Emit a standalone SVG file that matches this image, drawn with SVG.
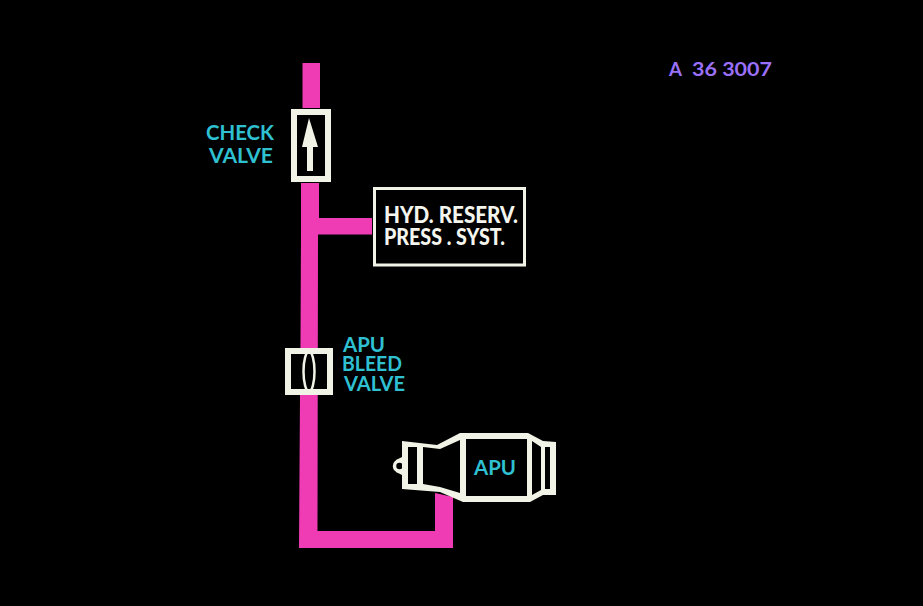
<svg xmlns="http://www.w3.org/2000/svg" width="923" height="606" viewBox="0 0 923 606">
<style>
.pipe{fill:#f03cb4}
.w{fill:#f1f3e6}
.k{fill:#000}
.o{fill:#000;stroke:#f1f3e6}
text{font-family:Lato,"Open Sans",sans-serif;font-weight:700}
.c{fill:#2fc0d2;font-size:20.500px}
.t{fill:#f4f5ee;font-size:22px;font-weight:900}
.v{fill:#9a70fa;font-size:18px}
</style>
<rect width="923" height="606" fill="#000"/>
<g id="connectors">
<polygon class="pipe" points="302.500,63 320,63 320,108 302.500,108"/>
<polygon class="pipe" points="301,183 319,183 319,218 372,218 372,234.500 318,234.500 317.500,531 435,531 435,493 453,497 453,548 299,548 300,395 300.500,340 301,234"/>
</g>
<g id="check-valve">
<rect class="o" x="294" y="112" width="34" height="67" stroke-width="6"/>
<polygon class="w" points="309,118 318,147 313,147 313,171 307,171 307,147 302,147"/>
<text class="c" x="206" y="140" textLength="68" lengthAdjust="spacingAndGlyphs">CHECK</text>
<text class="c" x="209" y="163" textLength="64" lengthAdjust="spacingAndGlyphs">VALVE</text>
</g>
<g id="hyd-reserv">
<rect x="374.500" y="188.500" width="150" height="76.500" class="k" stroke="#f1f3e6" stroke-width="3"/>
<text class="t" x="384" y="223" textLength="134" lengthAdjust="spacingAndGlyphs">HYD. RESERV.</text>
<text class="t" x="384" y="245" textLength="121" lengthAdjust="spacingAndGlyphs">PRESS . SYST.</text>
</g>
<g id="apu-bleed-valve">
<rect class="o" x="288" y="351" width="42" height="41" stroke-width="6"/>
<ellipse cx="309" cy="371.500" rx="5.500" ry="20" fill="none" stroke="#f1f3e6" stroke-width="2.500"/>
<text class="c" x="343" y="352" textLength="42" lengthAdjust="spacingAndGlyphs">APU</text>
<text class="c" x="342" y="371" textLength="60" lengthAdjust="spacingAndGlyphs">BLEED</text>
<text class="c" x="344" y="391" textLength="61" lengthAdjust="spacingAndGlyphs">VALVE</text>
</g>
<g id="apu">
<polygon class="w" points="404,456 396,460 396,472 404,476"/>
<circle cx="399.500" cy="466" r="5" class="k" stroke="#f1f3e6" stroke-width="3.500"/>
<polygon class="w" points="402,441 437,445 460,433 528,433 543,441 556,442 556,495 543,495 530,502 463,502 440,492 402,489"/>
<rect class="k" x="408" y="447" width="9" height="37"/>
<polygon class="k" points="423,447 440,449 460,440 460,493 440,487 423,484"/>
<rect class="k" x="466" y="439" width="61" height="57"/>
<polygon class="k" points="532,441 541,447 541,490 532,495"/>
<rect class="k" x="545" y="447" width="5" height="42"/>
<text class="c" x="474" y="475" textLength="42" lengthAdjust="spacingAndGlyphs">APU</text>
</g>
<g id="reference">
<text class="v" x="669" y="76" textLength="13" lengthAdjust="spacingAndGlyphs">A</text>
<text class="v" x="692" y="76" textLength="80" lengthAdjust="spacingAndGlyphs">36 3007</text>
</g>
</svg>
